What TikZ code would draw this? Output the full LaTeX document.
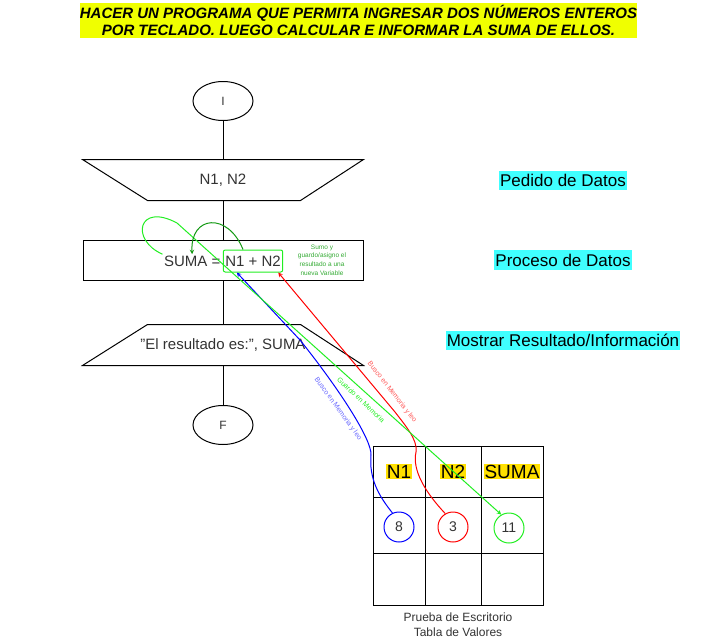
\documentclass[tikz,border=0pt]{standalone}
\usepackage{fontspec}
\setmainfont{Liberation Sans}
\usepackage{xcolor}
\usepackage{tikz}
\usetikzlibrary{calc, positioning, shapes.geometric}
\definecolor{titleyellow}{HTML}{F0FF00}
\definecolor{stagecyan}{HTML}{40FFFF}
\definecolor{headyellow}{HTML}{FFE000}
\definecolor{brightgreen}{HTML}{22EE22}
\definecolor{darkgreen}{HTML}{139913}
\definecolor{notegreen}{HTML}{33AA33}
\newcommand{\fsz}[2]{\fontsize{#1}{#2}\selectfont}

\begin{document}
\begin{tikzpicture}[x=1pt, y=-1pt, >= stealth, line width =1 pt,
		term/.style={ellipse, draw, minimum width=60pt, minimum height=39pt, text=black!80, font=\fsz{12}{14}},
		box/.style={rectangle, minimum width=280pt, minimum height=40pt, inner sep=0pt, text=black!80, font=\fsz{15}{18}},
		exprbox/.style={rectangle, draw=brightgreen, rounded corners=2pt, inner sep=2pt, minimum height=22pt, text=black!80, font=\fsz{15}{18}},
		stage/.style={fill=stagecyan, inner xsep=1pt, inner ysep=3.5pt, font=\fsz{17}{20}},
		head/.style={fill=headyellow, inner sep=1pt, font=\fsz{19}{22}},
		val/.style={circle, minimum size=30pt, inner sep=0pt, text=black!80, font=\fsz{14}{16}},
		lbl/.style={inner sep=0pt, font=\fsz{7}{8}}]
	\useasboundingbox (0,0) rectangle (721,640);

	\node[fill=titleyellow, minimum width=557pt, minimum height=35pt, inner sep=0pt, align=center,
		font=\fsz{15}{17}\bfseries\itshape] (title) at (358.5,20.5)
		{HACER UN PROGRAMA QUE PERMITA INGRESAR DOS NÚMEROS ENTEROS\\POR TECLADO. LUEGO CALCULAR E INFORMAR LA SUMA DE ELLOS.};

	\node[term] (start) at (223,101) {I};
	\node[box] (inp) at (223,180) {N1, N2};
	\node[box, draw] (proc) at (223,260) {};
	\node[exprbox] (expr) at (253,261) {N1 + N2};
	\node[left=1pt of expr, inner sep=1pt, text=black!80, font=\fsz{15}{18}] (sumalbl) {SUMA =};
	\node[box] (out) at (223,345) {"El resultado es:", SUMA};
	\node[term] (end) at (223,425) {F};
	\node[text=notegreen, align=center, inner sep=0pt, font=\fsz{6.5}{8.7}] (note) at (322,260)
		{Sumo y\\guardo/asigno el\\resultado a una\\nueva Variable};

	\draw (inp.north west) -- (inp.north east) -- ([xshift=-63pt]inp.south east) -- ([xshift=65pt]inp.south west) -- cycle;
	\draw ([xshift=65pt]out.north west) -- ([xshift=-63pt]out.north east) -- (out.south east) -- (out.south west) -- cycle;
	\draw (start) -- (inp);
	\draw (inp) -- (proc);
	\draw (proc) -- (out);
	\draw (out) -- (end);

	\node[stage] (pedido) at (563,180.5) {Pedido de Datos};
	\node[stage] (proceso) at (563,260) {Proceso de Datos};
	\node[stage] (mostrar) at (563,340.5) {Mostrar Resultado/Información};

	\draw (373,446) rectangle (543,605);
	\foreach \x in {425,481} \draw (\x,446) -- (\x,605);
	\foreach \y in {497,553} \draw (373,\y) -- (543,\y);
	\node[head] (hn1) at (399,471.5) {N1};
	\node[head] (hn2) at (453,471.5) {N2};
	\node[head] (hsuma) at (512,471.5) {SUMA};
	\node[val, draw=blue] (c8) at (399,527) {8};
	\node[val, draw=red] (c3) at (453,527) {3};
	\node[val, draw=brightgreen] (c11) at (509,528) {11};
	\node[align=center, inner sep=0pt, text=black!80, font=\fsz{12}{15}] (cap) at (458,625)
		{Prueba de Escritorio\\Tabla de Valores};

	\draw[blue, ->] (c8.115) .. controls (378,495) and (369,478) .. (371,455)
		.. controls (372,440) and (340,390) .. (300,340) -- ([xshift=14pt]expr.south west);
	\draw[red, ->] (c3.120) .. controls (425,492) and (412,470) .. (416,452)
		.. controls (418,440) and (405,425) .. (395,412) -- ([xshift=-5pt]expr.south east);
	\draw[brightgreen, ->] (sumalbl.north west) .. controls (130,240) and (138,202) .. (177,223) -- (c11.120);
	\draw[darkgreen, ->] ([xshift=-10pt]expr.north) .. controls (228,212) and (190,215) .. (sumalbl.north);

	\node[lbl, text=blue!60, rotate=-54] (lblblue) at (338,409) {Busco en Memoria y leo};
	\node[lbl, text=red!65, rotate=-52] (lblred) at (392,392) {Busco en Memoria y leo};
	\node[lbl, text=brightgreen, rotate=-43] (lblgreen) at (361,400) {Guardo en Memoria};
\end{tikzpicture}
\end{document}
